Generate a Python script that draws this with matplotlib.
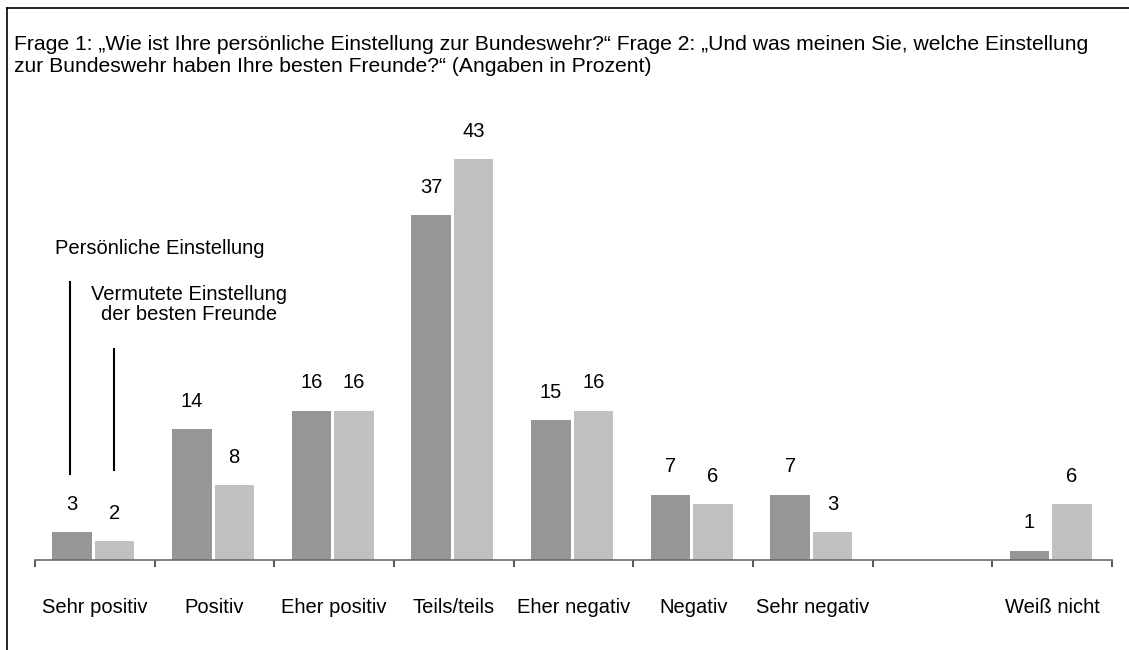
import matplotlib
matplotlib.use("Agg")
import matplotlib.pyplot as plt
from matplotlib.lines import Line2D
import numpy as np

plt.rcParams['font.family'] = ['Liberation Sans', 'DejaVu Sans']

categories = ["Sehr positiv", "Positiv", "Eher positiv", "Teils/teils", "Eher negativ",
              "Negativ", "Sehr negativ", "", "Weiß nicht"]
persoenlich = [3, 14, 16, 37, 15, 7, 7, None, 1]
freunde = [2, 8, 16, 43, 16, 6, 3, None, 6]

title_line1 = ("Frage 1: \u201eWie ist Ihre persönliche Einstellung zur Bundeswehr?\u201c "
               "Frage 2: \u201eUnd was meinen Sie, welche Einstellung")
title_line2 = "zur Bundeswehr haben Ihre besten Freunde?\u201c (Angaben in Prozent)"
label_pers = "Persönliche Einstellung"
label_freunde = "Vermutete Einstellung\nder besten Freunde"

W, H = 1129, 650
fig = plt.figure(figsize=(W / 100, H / 100), dpi=100)
fig.patch.set_facecolor("white")

ax_left, ax_right, ax_bottom, ax_top = 35, 1112, 560, 93.5
ax = fig.add_axes([ax_left / W, 1 - ax_bottom / H, (ax_right - ax_left) / W, (ax_bottom - ax_top) / H])

dark = "#969696"
light = "#c0c0c0"
width = 0.33
off_d, off_l = -0.19, 0.165
vfs = 14.5

x = np.arange(len(categories))
for i in range(len(categories)):
    if persoenlich[i] is not None:
        ax.bar(x[i] + off_d, persoenlich[i], width, color=dark, zorder=2)
        ax.annotate(str(persoenlich[i]), (x[i] + off_d, persoenlich[i]), xytext=(0, 20),
                    textcoords="offset points", ha="center", va="center", fontsize=vfs)
    if freunde[i] is not None:
        ax.bar(x[i] + off_l, freunde[i], width, color=light, zorder=2)
        ax.annotate(str(freunde[i]), (x[i] + off_l, freunde[i]), xytext=(0, 20),
                    textcoords="offset points", ha="center", va="center", fontsize=vfs)

ax.set_xlim(-0.5, len(categories) - 0.5)
ax.set_ylim(0, 50)
for s in ["left", "right", "top"]:
    ax.spines[s].set_visible(False)
ax.spines["bottom"].set_color("#6a6a6a")
ax.spines["bottom"].set_linewidth(1.2)
ax.set_yticks([])
ax.set_xticks(np.arange(-0.5, len(categories)), minor=False)
ax.set_xticklabels([])
ax.tick_params(axis="x", which="major", length=5, color="#3a3a3a", width=1.2)
ax.set_xticks(x, minor=True)
ax.set_xticklabels(categories, minor=True, fontsize=14.5)
ax.tick_params(axis="x", which="minor", length=0, pad=27.5)

# annotation lines for legend
ax.plot([off_d - 0.02, off_d - 0.02], [9.2, 29.8], color="black", lw=1.5)
ax.plot([off_l - 0.005, off_l - 0.005], [9.6, 22.6], color="black", lw=1.5)
ax.text(0.54, 33.4, label_pers, ha="center", va="center", fontsize=14.5)
ax.text(0.786, 27.4, label_freunde, ha="center", va="center", fontsize=14.5, linespacing=1.1)

fig.text(14 / W, 1 - 50 / H, title_line1, ha="left", va="baseline", fontsize=15.2)
fig.text(14 / W, 1 - 72 / H, title_line2, ha="left", va="baseline", fontsize=15.2)

# border (left and top visible)
fig.add_artist(Line2D([6.5 / W, 6.5 / W], [0, 1 - 8 / H], color="black", lw=1.2))
fig.add_artist(Line2D([6.5 / W, 1], [1 - 8 / H, 1 - 8 / H], color="black", lw=1.2))

fig.savefig("out.png", dpi=100)
